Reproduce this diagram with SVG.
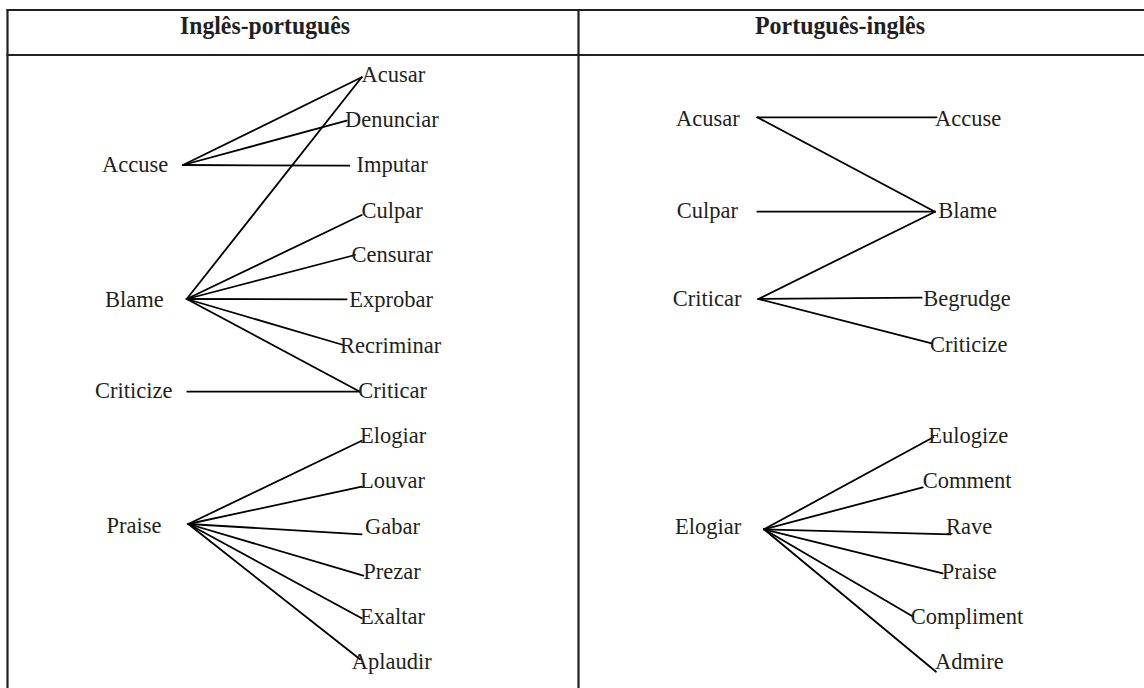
<svg xmlns="http://www.w3.org/2000/svg" width="1144" height="688" viewBox="0 0 1144 688">
<style>
.t{font-family:"Liberation Serif","Times New Roman",serif;font-size:22.5px;fill:#231f20}
.h{font-family:"Liberation Serif","Times New Roman",serif;font-size:25px;font-weight:bold;fill:#231f20;text-anchor:middle}
.b{stroke:#231f20;stroke-width:2.2;fill:none}
.c line{stroke:#000;stroke-width:1.8;stroke-linecap:round}
</style>
<rect width="1144" height="688" fill="#fff"/>
<g id="table">
<line class="b" x1="6.5" y1="10" x2="1144" y2="10"/>
<line class="b" x1="6.5" y1="55" x2="1144" y2="55"/>
<line class="b" x1="7.5" y1="9" x2="7.5" y2="688"/>
<line class="b" x1="578.5" y1="9" x2="578.5" y2="688"/>
<text class="h" x="265" y="34" textLength="170" lengthAdjust="spacingAndGlyphs">Inglês-português</text>
<text class="h" x="840" y="34" textLength="170" lengthAdjust="spacingAndGlyphs">Português-inglês</text>
</g>
<g id="connectors" class="c">
<line x1="183" y1="165" x2="361.7" y2="77.3"/>
<line x1="183" y1="165" x2="346.7" y2="120.7"/>
<line x1="183" y1="165" x2="349.3" y2="165.7"/>
<line x1="186.7" y1="299" x2="361.7" y2="77.3"/>
<line x1="186.7" y1="299" x2="361.7" y2="215"/>
<line x1="186.7" y1="299" x2="355" y2="255"/>
<line x1="186.7" y1="299" x2="346.7" y2="299.3"/>
<line x1="186.7" y1="299" x2="343.3" y2="345"/>
<line x1="186.7" y1="299" x2="360" y2="391.7"/>
<line x1="187.3" y1="391.7" x2="360" y2="391.7"/>
<line x1="188.3" y1="524" x2="361.7" y2="440.7"/>
<line x1="188.3" y1="524" x2="361.7" y2="486.7"/>
<line x1="188.3" y1="524" x2="361.7" y2="534.3"/>
<line x1="188.3" y1="524" x2="363.3" y2="575.7"/>
<line x1="188.3" y1="524" x2="361.7" y2="618.3"/>
<line x1="188.3" y1="524" x2="360" y2="659.3"/>
<line x1="757.3" y1="117.3" x2="936.7" y2="117.3"/>
<line x1="757.3" y1="117.3" x2="935" y2="211.7"/>
<line x1="757.3" y1="211.7" x2="935" y2="211.7"/>
<line x1="758.3" y1="299" x2="935" y2="211.7"/>
<line x1="758.3" y1="299" x2="921.7" y2="297.7"/>
<line x1="758.3" y1="299" x2="931.7" y2="343.3"/>
<line x1="764" y1="529.3" x2="933.3" y2="437.3"/>
<line x1="764" y1="529.3" x2="922.7" y2="487.3"/>
<line x1="764" y1="529.3" x2="950.7" y2="534.3"/>
<line x1="764" y1="529.3" x2="942.7" y2="573.3"/>
<line x1="764" y1="529.3" x2="913.3" y2="616.7"/>
<line x1="764" y1="529.3" x2="936" y2="671.7"/>
</g>
<g id="n-accuse"><text class="t" x="102" y="172">Accuse</text></g>
<g id="n-blame"><text class="t" x="105" y="307">Blame</text></g>
<g id="n-criticize"><text class="t" x="95" y="398">Criticize</text></g>
<g id="n-praise"><text class="t" x="106.5" y="533">Praise</text></g>
<g id="n-acusar"><text class="t" x="361.5" y="82">Acusar</text></g>
<g id="n-denunciar"><text class="t" x="345" y="127">Denunciar</text></g>
<g id="n-imputar"><text class="t" x="356.5" y="172">Imputar</text></g>
<g id="n-culpar"><text class="t" x="361.5" y="218">Culpar</text></g>
<g id="n-censurar"><text class="t" x="351.5" y="262">Censurar</text></g>
<g id="n-exprobar"><text class="t" x="349.3" y="307">Exprobar</text></g>
<g id="n-recriminar"><text class="t" x="340" y="353">Recriminar</text></g>
<g id="n-criticar"><text class="t" x="358.3" y="398">Criticar</text></g>
<g id="n-elogiar"><text class="t" x="360" y="443">Elogiar</text></g>
<g id="n-louvar"><text class="t" x="360" y="488">Louvar</text></g>
<g id="n-gabar"><text class="t" x="365" y="534">Gabar</text></g>
<g id="n-prezar"><text class="t" x="363.3" y="579">Prezar</text></g>
<g id="n-exaltar"><text class="t" x="360" y="623.5">Exaltar</text></g>
<g id="n-aplaudir"><text class="t" x="351.7" y="669">Aplaudir</text></g>
<g id="r-acusar"><text class="t" x="676" y="125.5">Acusar</text></g>
<g id="r-culpar"><text class="t" x="676.7" y="217.5">Culpar</text></g>
<g id="r-criticar"><text class="t" x="672.7" y="306">Criticar</text></g>
<g id="r-elogiar"><text class="t" x="675" y="533.5">Elogiar</text></g>
<g id="r-accuse"><text class="t" x="935" y="125.5">Accuse</text></g>
<g id="r-blame"><text class="t" x="938.3" y="217.5">Blame</text></g>
<g id="r-begrudge"><text class="t" x="923.3" y="306">Begrudge</text></g>
<g id="r-criticize"><text class="t" x="930" y="351.7">Criticize</text></g>
<g id="r-eulogize"><text class="t" x="928.3" y="442.7">Eulogize</text></g>
<g id="r-comment"><text class="t" x="922.7" y="487.7">Comment</text></g>
<g id="r-rave"><text class="t" x="946" y="533.5">Rave</text></g>
<g id="r-praise"><text class="t" x="941.7" y="579">Praise</text></g>
<g id="r-compliment"><text class="t" x="910.7" y="623.5">Compliment</text></g>
<g id="r-admire"><text class="t" x="935" y="669.3">Admire</text></g>
</svg>
